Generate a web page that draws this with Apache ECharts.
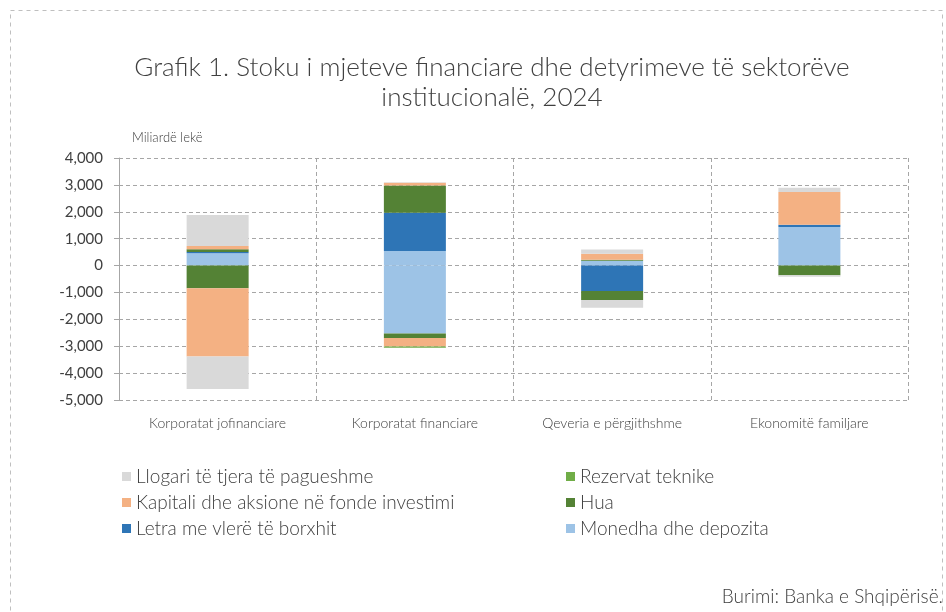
<!DOCTYPE html>
<html>
<head>
<meta charset="utf-8">
<script src="https://cdn.jsdelivr.net/npm/echarts@6/dist/echarts.min.js"></script>
<style>
html, body { margin: 0; padding: 0; background: #fff; }
#chart { width: 946px; height: 612px; }
</style>
</head>
<body>
<div id="chart"></div>
<script>
// sektoret
var sektoret = ['Korporatat jofinanciare', 'Korporatat financiare', 'Qeveria e përgjithshme', 'Ekonomitë familjare'];
var yTicks = { min: -5000, max: 4000, interval: 1000 };

// mjetet (pozitive), miliardë lekë
var monedhaMjete = [460, 540, 180, 1435];
var letraMjete = [40, 1420, 0, 85];
var huaMjete = [110, 1020, 40, 0];
var kapitaliMjete = [120, 100, 220, 1215];
var rezervatMjete = [0, 0, 0, 0];
var llogariMjete = [1150, 20, 160, 160];

// detyrimet (negative)
var monedhaDet = [0, -2530, 0, 0];
var letraDet = [0, 0, -945, 0];
var huaDet = [-845, -160, -335, -360];
var kapitaliDet = [-2540, -320, 0, 0];
var rezervatDet = [0, -50, 0, 0];
var llogariDet = [-1210, 0, -290, -60];

var emrat = {
    llogari: 'Llogari të tjera të pagueshme',
    rezervat: 'Rezervat teknike',
    kapitali: 'Kapitali dhe aksione në fonde investimi',
    hua: 'Hua',
    letra: 'Letra me vlerë të borxhit',
    monedha: 'Monedha dhe depozita'
};
var ngjyrat = {
    llogari: '#d9d9d9',
    rezervat: '#70ad47',
    kapitali: '#f4b183',
    hua: '#548235',
    letra: '#2e75b6',
    monedha: '#9dc3e6'
};

var FONT = 'Lato';

function seri(kodi, data) {
    return {
        name: emrat[kodi],
        type: 'bar',
        stack: 'total',
        barWidth: 62,
        itemStyle: { color: ngjyrat[kodi] },
        data: data
    };
}

var myChart = echarts.init(document.getElementById('chart'));

var legendText = { fontFamily: FONT, fontSize: 19, fontWeight: 300, color: '#404040', lineHeight: 18 };

var option = {
    animation: false,
    textStyle: { fontFamily: FONT, color: '#404040' },
    title: {
        text: 'Grafik 1. Stoku i mjeteve financiare dhe detyrimeve të sektorëve\ninstitucionalë, 2024',
        left: 487,
        textAlign: 'center',
        top: 48,
        textStyle: { fontFamily: FONT, fontSize: 26, fontWeight: 300, color: '#404040', lineHeight: 30 }
    },
    graphic: [
        {
            type: 'rect',
            shape: { x: 10.5, y: 10.5, width: 932, height: 640 },
            style: { fill: 'none', stroke: '#bfbfbf', lineWidth: 1, lineDash: [4, 4] }
        },
        {
            type: 'text',
            left: 132, top: 131,
            style: { text: 'Miliardë lekë', font: '300 13px ' + FONT, fill: '#404040' }
        },
        {
            type: 'text',
            right: 3, top: 587,
            style: { text: 'Burimi: Banka e Shqipërisë.', font: '300 19px ' + FONT, fill: '#404040' }
        }
    ],
    legend: [
        {
            orient: 'vertical',
            left: 117, top: 462,
            itemWidth: 9, itemHeight: 9, itemGap: 7,
            icon: 'rect',
            textStyle: legendText,
            data: [emrat.llogari, emrat.kapitali, emrat.letra]
        },
        {
            orient: 'vertical',
            left: 561, top: 462,
            itemWidth: 9, itemHeight: 9, itemGap: 7,
            icon: 'rect',
            textStyle: legendText,
            data: [emrat.rezervat, emrat.hua, emrat.monedha]
        }
    ],
    grid: { left: 119, right: 38, top: 158, bottom: 212 },
    xAxis: {
        type: 'category',
        data: sektoret,
        axisLine: { show: false },
        axisTick: { show: false },
        axisLabel: { fontFamily: FONT, fontSize: 14, fontWeight: 300, color: '#404040', margin: 16 },
        splitLine: { show: true, lineStyle: { color: '#a6a6a6', type: [4, 3] } }
    },
    yAxis: {
        type: 'value',
        min: yTicks.min, max: yTicks.max, interval: yTicks.interval,
        axisLine: { show: true, lineStyle: { color: '#a6a6a6' } },
        axisTick: { show: true, length: 5, lineStyle: { color: '#a6a6a6' } },
        axisLabel: {
            fontFamily: FONT, fontSize: 15, color: '#404040', margin: 16,
            formatter: function (v) { return v.toLocaleString('en-US'); }
        },
        splitLine: { lineStyle: { color: '#a6a6a6', type: [4, 3] } }
    },
    series: [
        seri('monedha', monedhaMjete),
        seri('letra', letraMjete),
        seri('hua', huaMjete),
        seri('kapitali', kapitaliMjete),
        seri('rezervat', rezervatMjete),
        seri('llogari', llogariMjete),
        seri('monedha', monedhaDet),
        seri('letra', letraDet),
        seri('hua', huaDet),
        seri('kapitali', kapitaliDet),
        seri('rezervat', rezervatDet),
        seri('llogari', llogariDet)
    ]
};
myChart.setOption(option);
</script>
</body>
</html>
